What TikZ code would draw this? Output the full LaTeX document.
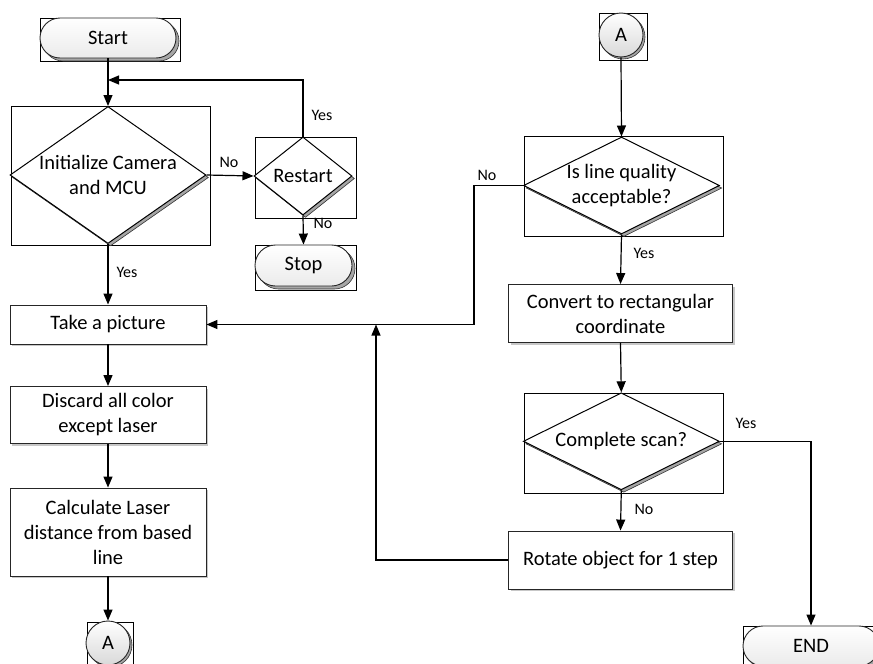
\documentclass[tikz,border=0pt]{standalone}
\usepackage{fontspec}
\setmainfont{Carlito}
\usetikzlibrary{shapes.geometric,shapes.misc,shadows,arrows.meta}
\begin{document}
\begin{tikzpicture}[x=1pt,y=-1pt,
  frame/.style={draw=black, line width=0.9pt, rectangle, inner sep=0pt},
  proc/.style={draw=black!85, line width=0.9pt, rectangle, fill=white, inner sep=0pt, align=center,
    font=\fontsize{20.5}{25}\selectfont,
    drop shadow={shadow xshift=2pt, shadow yshift=-2pt, fill=black!22, opacity=1}},
  dia/.style={diamond, draw=black, fill=white, line width=1pt, inner sep=0pt,
    drop shadow={shadow xshift=2.5pt, shadow yshift=-2.5pt, fill=black!35, draw=black!80, line width=0.6pt, opacity=1}},
  term/.style={rounded rectangle, draw=black!85, line width=0.9pt, top color=white, bottom color=black!8,
    inner sep=0pt, font=\fontsize{20.5}{25}\selectfont,
    drop shadow={shadow xshift=3pt, shadow yshift=-3pt, fill=black!35, draw=black!80, line width=0.6pt, opacity=1}},
  conn/.style={circle, draw=black!85, line width=0.9pt, top color=white, bottom color=black!15,
    inner sep=0pt, minimum size=44pt, font=\fontsize{20.5}{25}\selectfont,
    drop shadow={shadow xshift=2pt, shadow yshift=-2pt, fill=black!35, draw=black!80, line width=0.6pt, opacity=1}},
  txt/.style={font=\fontsize{20.5}{25}\selectfont, align=center, inner sep=0pt},
  lbl/.style={font=\fontsize{16}{19}\selectfont, inner sep=0pt},
  arr/.style={-{Triangle[length=11pt,width=9pt]}, line width=1.2pt},
  ln/.style={line width=1.2pt}
]
\useasboundingbox (0,0) rectangle (873,664);
\clip (0,0) rectangle (873,664);

% frames
\node[frame, minimum width=140pt, minimum height=43pt] (startbox) at (110,39.5) {};
\node[frame, minimum width=199pt, minimum height=139pt] (initbox) at (110.5,176) {};
\node[frame, minimum width=101pt, minimum height=81pt] (restartbox) at (305.5,177.5) {};
\node[frame, minimum width=101pt, minimum height=45pt] (stopbox) at (305.5,267.5) {};
\node[frame, minimum width=46pt, minimum height=47pt] (Abotbox) at (110,646) {};
\node[frame, minimum width=48pt, minimum height=47pt] (Atopbox) at (623,36.5) {};
\node[frame, minimum width=199pt, minimum height=100pt] (islinebox) at (623.7,186.7) {};
\node[frame, minimum width=199pt, minimum height=100pt] (completebox) at (623.7,443) {};
\node[frame, minimum width=140pt, minimum height=43pt] (endbox) at (813,647.5) {};

% terminals
\node[term, minimum width=136pt, minimum height=40pt] (start) at (108,38) {Start};
\node[term, minimum width=97pt, minimum height=41pt] (stop) at (303.5,265.5) {Stop};
\node[term, minimum width=136pt, minimum height=40pt] (endn) at (811,646) {END};

% connectors
\node[conn] (Abot) at (108,643) {A};
\node[conn] (Atop) at (621,35) {A};

% diamonds
\node[dia, minimum width=196pt, minimum height=137pt] (init) at (108,175) {};
\node[txt] (initT) at (init) {Initialize Camera\\and MCU};
\node[dia, minimum width=98pt, minimum height=78pt] (restart) at (303,176) {};
\node[txt] (restartT) at (restart) {Restart};
\node[dia, minimum width=196pt, minimum height=97pt] (isline) at (621.5,185.5) {};
\node[txt] (islineT) at (isline) {Is line quality\\acceptable?};
\node[dia, minimum width=196pt, minimum height=97pt] (complete) at (621.3,441.3) {};
\node[txt] (completeT) at (complete) {Complete scan?};

% processes
\node[proc, minimum width=196pt, minimum height=39pt] (take) at (108,324.5) {Take a picture};
\node[proc, minimum width=196pt, minimum height=57pt] (discard) at (108,415) {Discard all color\\except laser};
\node[proc, minimum width=196pt, minimum height=88pt] (calc) at (108,532) {Calculate Laser\\distance from based\\line};
\node[proc, minimum width=224pt, minimum height=58pt] (convert) at (620.5,313.5) {Convert to rectangular\\coordinate};
\node[proc, minimum width=224pt, minimum height=58pt] (rotate) at (620.5,560) {Rotate object for 1 step};

% helper coordinates
\coordinate (j1) at (108,80);
\coordinate (nojog) at (474,0);
\coordinate (loopx) at (376,0);

% connectors
\draw[arr] (start.south) -- (init.north);
\draw[arr] (restart.north) |- (j1);
\draw[arr] (init.east) -- (restart.west);
\draw[arr] (restart.south) -- (stop.north);
\draw[arr] (init.south) -- (take.north);
\draw[arr] (take.south) -- (discard.north);
\draw[arr] (discard.south) -- (calc.north);
\draw[arr] (calc.south) -- (Abot.north);
\draw[arr] (Atop.south) -- (isline.north);
\draw[arr] (isline.west) -- (isline.west -| nojog) |- (take.east);
\draw[arr] (isline.south) -- (convert.north);
\draw[arr] (convert.south) -- (complete.north);
\draw[arr] (complete.east) -| (endn.north);
\draw[arr] (complete.south) -- (rotate.north);
\draw[arr] (rotate.west) -| (loopx |- take.east);

% labels
\node[lbl] (l1) at (229,162) {No};
\node[lbl] (l2) at (322,115) {Yes};
\node[lbl] (l3) at (323,223) {No};
\node[lbl] (l4) at (127,272) {Yes};
\node[lbl] (l5) at (487,175) {No};
\node[lbl] (l6) at (644,253) {Yes};
\node[lbl] (l7) at (746,423) {Yes};
\node[lbl] (l8) at (644,509) {No};
\end{tikzpicture}
\end{document}
